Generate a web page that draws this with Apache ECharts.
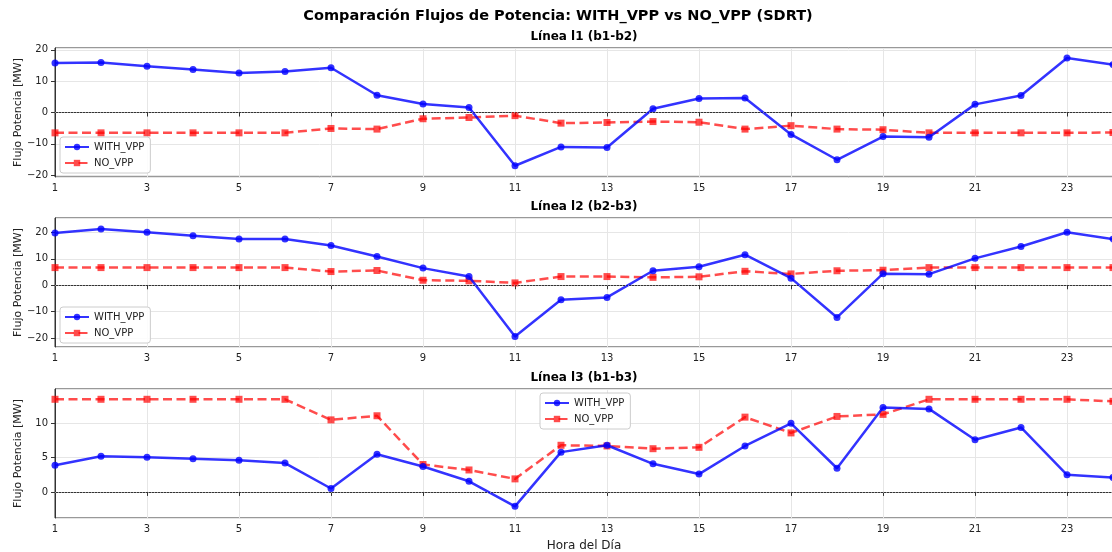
<!DOCTYPE html>
<html>
<head>
<meta charset="utf-8">
<script src="https://cdn.jsdelivr.net/npm/echarts@6/dist/echarts.min.js"></script>
<style>
  html, body { margin: 0; padding: 0; background: #fff; }
  #chart { width: 1112px; height: 552px; }
</style>
</head>
<body>
<div id="chart"></div>
<script>
// horas del dia
var hours = ['1','2','3','4','5','6','7','8','9','10','11','12','13','14','15','16','17','18','19','20','21','22','23','24'];

// Linea l1 (b1-b2)
var l1With = [15.8, 16.0, 14.8, 13.7, 12.6, 13.1, 14.3, 5.5, 2.7, 1.6, -17.0, -11.0, -11.2, 1.2, 4.5, 4.6, -7.0, -15.1, -7.7, -7.9, 2.6, 5.4, 17.4, 15.3];
var l1No   = [-6.5, -6.5, -6.5, -6.5, -6.5, -6.5, -5.1, -5.3, -2.0, -1.6, -1.0, -3.4, -3.2, -2.9, -3.1, -5.3, -4.2, -5.3, -5.5, -6.5, -6.5, -6.5, -6.5, -6.4];

// Linea l2 (b2-b3)
var l2With = [19.8, 21.3, 20.1, 18.8, 17.5, 17.5, 15.1, 10.9, 6.5, 3.3, -19.4, -5.5, -4.6, 5.5, 7.0, 11.6, 2.7, -12.2, 4.4, 4.2, 10.2, 14.7, 20.1, 17.5];
var l2No   = [6.7, 6.7, 6.7, 6.7, 6.7, 6.7, 5.2, 5.6, 1.9, 1.7, 0.9, 3.3, 3.3, 3.0, 3.2, 5.3, 4.3, 5.5, 5.7, 6.7, 6.7, 6.7, 6.7, 6.7];

// Linea l3 (b1-b3)
var l3With = [3.9, 5.2, 5.05, 4.85, 4.6, 4.2, 0.5, 5.5, 3.7, 1.55, -2.1, 5.8, 6.8, 4.1, 2.6, 6.7, 10.0, 3.45, 12.3, 12.1, 7.6, 9.4, 2.5, 2.1];
var l3No   = [13.5, 13.5, 13.5, 13.5, 13.5, 13.5, 10.5, 11.1, 4.0, 3.2, 1.9, 6.8, 6.7, 6.3, 6.5, 10.9, 8.6, 11.0, 11.3, 13.5, 13.5, 13.5, 13.5, 13.2];

var panelTitles = ['Línea l1 (b1-b2)', 'Línea l2 (b2-b3)', 'Línea l3 (b1-b3)'];
var yRanges = [[-20.6, 20.6], [-23.4, 25.5], [-3.8, 15.0]];
var ySplits = [4, 5, 4];

var font = 'DejaVu Sans, sans-serif';
var gridTops = [48, 218, 389];
var gridH = 129;

var grids = [], xAxes = [], yAxes = [], titles = [], legends = [], series = [];

titles.push({
  text: 'Comparación Flujos de Potencia: WITH_VPP vs NO_VPP (SDRT)',
  left: 558, textAlign: 'center', top: 9, padding: 0,
  textStyle: { fontFamily: font, fontSize: 14.5, fontWeight: 'bold', color: '#000' }
});

var withData = [l1With, l2With, l3With];
var noData = [l1No, l2No, l3No];

for (var i = 0; i < 3; i++) {
  grids.push({
    left: 55, right: -1, top: gridTops[i], height: gridH,
    outerBoundsMode: 'none', containLabel: false,
    show: true, borderColor: '#333', borderWidth: 1, backgroundColor: '#fff'
  });
  titles.push({
    text: panelTitles[i],
    left: 584, textAlign: 'center', top: gridTops[i] - 17, padding: 0,
    textStyle: { fontFamily: font, fontSize: 12, fontWeight: 'bold', color: '#000' }
  });
  xAxes.push({
    type: 'category', gridIndex: i, data: hours, boundaryGap: false,
    name: i === 2 ? 'Hora del Día' : '',
    nameLocation: 'middle', nameGap: 22, nameMoveOverlap: false,
    nameTextStyle: { fontFamily: font, fontSize: 12, color: '#222' },
    axisLine: { lineStyle: { color: '#333', width: 1 } },
    axisTick: { interval: 1, length: 4, lineStyle: { color: '#333' } },
    axisLabel: { interval: 1, margin: 6, fontFamily: font, fontSize: 10, color: '#222' },
    splitLine: { show: true, interval: 1, lineStyle: { color: '#e6e6e6', width: 1 } }
  });
  yAxes.push({
    type: 'value', gridIndex: i,
    min: yRanges[i][0], max: yRanges[i][1], splitNumber: ySplits[i],
    name: 'Flujo Potencia [MW]', nameLocation: 'middle', nameGap: 31, nameMoveOverlap: false,
    nameTextStyle: { fontFamily: font, fontSize: 11, color: '#222' },
    axisLine: { show: true, lineStyle: { color: '#333', width: 1 } },
    axisTick: { show: true, length: 4, lineStyle: { color: '#333' } },
    axisLabel: {
      margin: 7, fontFamily: font, fontSize: 10, color: '#222',
      showMinLabel: false, showMaxLabel: false,
      formatter: function (v) { return String(v).replace('-', '\u2212'); }
    },
    splitLine: { show: true, lineStyle: { color: '#e6e6e6', width: 1 } }
  });

  var lg = {
    orient: 'vertical', data: ['WITH_VPP', 'NO_VPP'],
    backgroundColor: 'rgba(255,255,255,0.85)', borderColor: '#ccc', borderWidth: 1, borderRadius: 3,
    padding: [5, 6, 5, 4], itemWidth: 24, itemHeight: 8, itemGap: 6,
    textStyle: { fontFamily: font, fontSize: 10, color: '#222' }
  };
  if (i === 2) { lg.left = 540; lg.top = 393; }
  else { lg.left = 60; lg.top = gridTops[i] + 89; }
  legends.push(lg);

  series.push({
    name: 'WITH_VPP', type: 'line', xAxisIndex: i, yAxisIndex: i,
    data: withData[i], symbol: 'circle', symbolSize: 7,
    lineStyle: { color: '#0000ff', width: 2.5, opacity: 0.8 },
    itemStyle: { color: '#0000ff', opacity: 0.8 },
    z: 3,
    markLine: {
      silent: true, symbol: 'none', label: { show: false },
      lineStyle: { color: '#999', type: [1, 2], width: 1, opacity: 1 },
      data: [{ yAxis: 0 }]
    }
  });
  series.push({
    name: 'NO_VPP', type: 'line', xAxisIndex: i, yAxisIndex: i,
    data: noData[i], symbol: 'rect', symbolSize: 7,
    lineStyle: { color: '#ff0000', width: 2.5, type: [9, 4.5], opacity: 0.7 },
    itemStyle: { color: '#ff0000', opacity: 0.7 },
    z: 2
  });
}

var myChart = echarts.init(document.getElementById('chart'));
var option = {
  animation: false,
  backgroundColor: '#fff',
  title: titles,
  legend: legends,
  grid: grids,
  xAxis: xAxes,
  yAxis: yAxes,
  series: series
};
myChart.setOption(option);
window.onresize = myChart.resize;
</script>
</body>
</html>
